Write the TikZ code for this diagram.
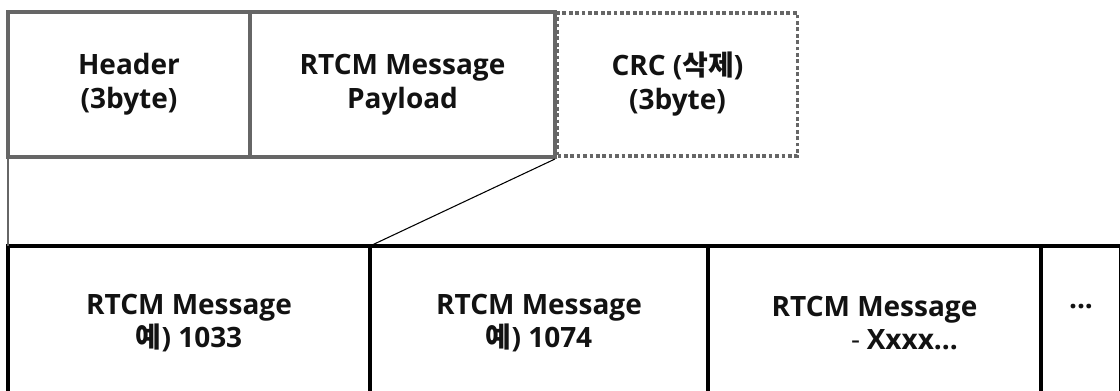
\documentclass[tikz,border=0pt]{standalone}
\usepackage{fontspec}
\setmainfont{Open Sans}
\newfontfamily\kr{Noto Sans CJK KR}
\begin{document}
\begin{tikzpicture}[x=0.75pt,y=-0.75pt,
  lbl/.style={font=\bfseries\fontsize{21pt}{25.5pt}\selectfont,align=center,
    inner sep=0pt,outer sep=0pt,text=black!93},
  topbox/.style={lbl,draw=black!60,line width=2.8pt,minimum height=108.75pt},
  crcbox/.style={lbl,draw=black!60,line width=2.8pt,dash pattern=on 2.8pt off 2pt,
    minimum height=107.25pt},
  msgbox/.style={lbl,draw=black,line width=2.6pt,minimum height=115.5pt,
    font=\bfseries\fontsize{21pt}{24.5pt}\selectfont},
  link/.style={line width=0.8pt}]
\useasboundingbox (0,0) rectangle (1120,390);
\clip (0,0) rectangle (1120,390);
\fill[white] (0,0) rectangle (1120,390);

% frame layout
\node[topbox,minimum width=181.5pt] (hdr) at (129,84.5) {Header\\(3byte)};
\node[topbox,minimum width=228.75pt] (pay) at (402.5,84.5) {RTCM Message\\Payload};
\node[crcbox,minimum width=180pt] (crc) at (677.5,84.5) {CRC ({\kr 삭제})\\(3byte)};

% payload contents
\node[msgbox,minimum width=271.5pt] (m1) at (189,323) {RTCM Message\\{\kr 예}) 1033};
\node[msgbox,minimum width=253.5pt] (m2) at (539,323) {RTCM Message\\{\kr 예}) 1074};
\node[msgbox,minimum width=249.75pt] (m3) at (874.5,323)
  {RTCM Message\\\hspace*{45pt}{\mdseries -}\hspace{5pt}Xxxx...};
\node[msgbox,minimum width=60pt] (m4) at (1081,323) {...\\\phantom{X}};

% expansion lines
\draw[link,draw=black!60,line width=1.1pt] (hdr.south west) ++(0,2) -- (m1.north west);
\draw[link] (pay.south east) ++(0,2) -- (m1.north east);
\end{tikzpicture}
\end{document}
